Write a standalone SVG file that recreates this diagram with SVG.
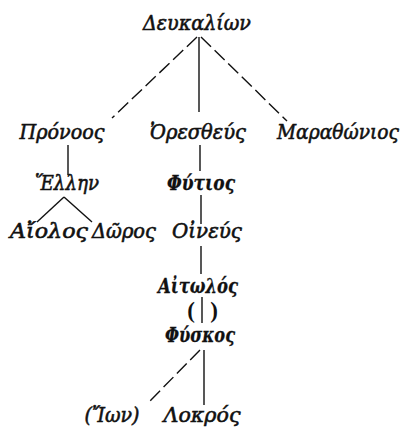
<svg xmlns="http://www.w3.org/2000/svg" width="409" height="427" viewBox="0 0 409 427">
  <style>
    .n { font-family: "DejaVu Serif", "Liberation Serif", serif; font-style: italic; font-size: 21px; fill: #111; stroke: #111; stroke-width: 0.6; text-anchor: middle; }
    .b { font-weight: bold; stroke-width: 0.3; }
    .p { font-family: "Liberation Serif", serif; font-weight: bold; font-size: 23px; fill: #111; text-anchor: middle; }
    .l { stroke: #111; stroke-width: 1.4; fill: none; }
    .d { stroke-dasharray: 14 5; }
  </style>
  <rect width="409" height="427" fill="#fff"/>
  <g id="connectors">
    <line class="l d" x1="197" y1="37" x2="112" y2="118"/>
    <line class="l" x1="199" y1="37" x2="199" y2="112"/>
    <line class="l d" x1="201" y1="37" x2="287" y2="121"/>
    <line class="l" x1="68" y1="145" x2="68" y2="175"/>
    <line class="l" x1="64" y1="197" x2="37" y2="222"/>
    <line class="l" x1="64" y1="197" x2="92" y2="222"/>
    <line class="l" x1="200" y1="145" x2="200" y2="171"/>
    <line class="l" x1="201" y1="195" x2="201" y2="224"/>
    <line class="l" x1="201" y1="246" x2="201" y2="274"/>
    <line class="l" x1="202" y1="297" x2="202" y2="323"/>
    <line class="l d" x1="200" y1="350" x2="147" y2="404"/>
    <line class="l" x1="204" y1="350" x2="204" y2="405"/>
  </g>
  <g id="deukalion"><text class="n" x="197" y="30" textLength="108" lengthAdjust="spacingAndGlyphs">Δευκαλίων</text></g>
  <g id="pronoos"><text class="n" x="62" y="139" textLength="85" lengthAdjust="spacingAndGlyphs">Πρόνοος</text></g>
  <g id="orestheus"><text class="n" x="198" y="139" textLength="96" lengthAdjust="spacingAndGlyphs">Ὀρεσθεύς</text></g>
  <g id="marathonios"><text class="n" x="338" y="139" textLength="122" lengthAdjust="spacingAndGlyphs">Μαραθώνιος</text></g>
  <g id="hellen"><text class="n" x="67" y="190" textLength="64" lengthAdjust="spacingAndGlyphs">Ἕλλην</text></g>
  <g id="aiolos"><text class="n" x="49" y="238" textLength="78" lengthAdjust="spacingAndGlyphs">Αἴολος</text></g>
  <g id="doros"><text class="n" x="124" y="238" textLength="64" lengthAdjust="spacingAndGlyphs">Δῶρος</text></g>
  <g id="phytios"><text class="n b" x="201" y="190" textLength="68" lengthAdjust="spacingAndGlyphs">Φύτιος</text></g>
  <g id="oineus"><text class="n" x="207" y="238" textLength="70" lengthAdjust="spacingAndGlyphs">Οἰνεύς</text></g>
  <g id="aitolos"><text class="n b" x="198" y="293" textLength="80" lengthAdjust="spacingAndGlyphs">Αἰτωλός</text></g>
  <g id="paren">
    <text class="p" x="191" y="318">(</text>
    <text class="p" x="214" y="318">)</text>
  </g>
  <g id="physkos"><text class="n b" x="200" y="342" textLength="70" lengthAdjust="spacingAndGlyphs">Φύσκος</text></g>
  <g id="ion"><text class="n" x="112" y="422" textLength="55" lengthAdjust="spacingAndGlyphs">(Ἴων)</text></g>
  <g id="lokros"><text class="n" x="202" y="422" textLength="77" lengthAdjust="spacingAndGlyphs">Λοκρός</text></g>
</svg>
